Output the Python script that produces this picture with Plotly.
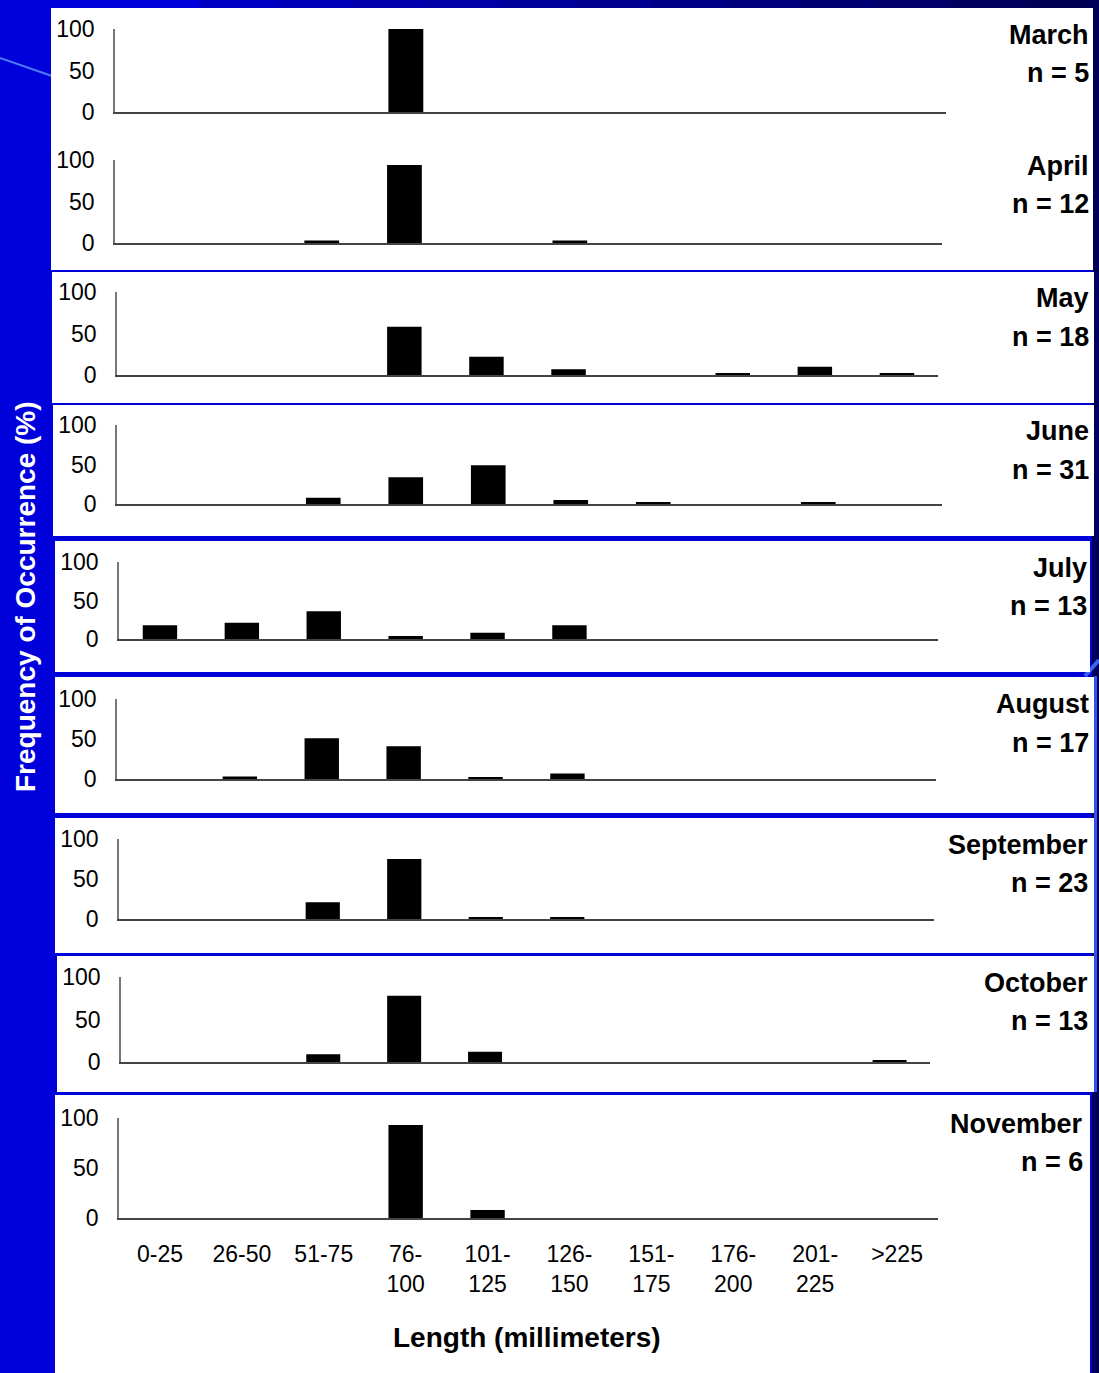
import plotly.graph_objects as go

W, H = 1099, 1373

categories = ["0-25", "26-50", "51-75", "76-100", "101-125", "126-150",
              "151-175", "176-200", "201-225", ">225"]
tick_labels = ["0-25", "26-50", "51-75", "76-<br>100", "101-<br>125", "126-<br>150",
               "151-<br>175", "176-<br>200", "201-<br>225", ">225"]

months = ["March", "April", "May", "June", "July", "August",
          "September", "October", "November"]
n_values = [5, 12, 18, 31, 13, 17, 23, 13, 6]

march = [0, 0, 0, 100, 0, 0, 0, 0, 0, 0]
april = [0, 0, 3, 94, 0, 3, 0, 0, 0, 0]
may = [0, 0, 0, 58, 22, 7, 0, 2, 10, 2]
june = [0, 0, 8, 34, 49, 5, 2, 0, 2, 0]
july = [18, 21, 36, 4, 8, 18, 0, 0, 0, 0]
august = [0, 3, 51, 41, 2, 7, 0, 0, 0, 0]
september = [0, 0, 21, 75, 2, 2, 0, 0, 0, 0]
october = [0, 0, 9, 78, 12, 0, 0, 0, 0, 2]
november = [0, 0, 0, 93, 8, 0, 0, 0, 0, 0]
series = [march, april, may, june, july, august, september, october, november]

# plot area pixel boxes (x0, x1, ytop, ybottom)
boxes = [
    (115, 946, 29, 112),
    (115, 942, 160, 243),
    (117, 938, 292, 375),
    (117, 942, 425, 504),
    (119, 938, 562, 639),
    (117, 936, 699, 779),
    (119, 934, 839, 919),
    (121, 930, 977, 1062),
    (119, 938, 1118, 1218),
]
# label centres (month line, n line)
label_y = [(35, 73), (166, 204), (298, 337), (431, 470), (568, 606),
           (704, 743), (845, 883), (983, 1021), (1124, 1162)]
label_x = [1091, 1091, 1091, 1091, 1089, 1091, 1090, 1090, 1085]

# white panels (x0, x1, y0, y1)
panels = [
    (51, 1093, 8, 270),
    (52, 1094, 272, 403),
    (53, 1094, 405, 536),
    (55, 1090, 541, 672),
    (55, 1094, 677, 813),
    (55, 1094, 818, 953),
    (57, 1094, 956, 1092),
    (55, 1090, 1095, 1373),
]

FONT = "Arial, Liberation Sans, sans-serif"

def px(x):
    return x / W

def py(y):
    return 1 - y / H

fig = go.Figure()
layout = {}
shapes = []
annotations = []

# background decorations
shapes.append(dict(type="rect", xref="paper", yref="paper", x0=0, x1=1, y0=0, y1=1,
                   fillcolor="#0000DA", line_width=0, layer="below"))
# darker top gradient strip
steps = 12
for i in range(steps):
    x0 = 200 + i * (W - 200) / steps
    x1 = 200 + (i + 1) * (W - 200) / steps
    t = (i + 1) / steps
    b = int(0xCC - t * (0xCC - 0x55))
    shapes.append(dict(type="rect", xref="paper", yref="paper", x0=px(x0), x1=px(x1),
                       y0=py(8), y1=1, fillcolor=f"rgb(0,0,{b})", line_width=0,
                       layer="below"))
# right dark strip
shapes.append(dict(type="rect", xref="paper", yref="paper", x0=px(1092), x1=1,
                   y0=0, y1=1, fillcolor="#00005A", line_width=0, layer="below"))
# light swoosh at top-left
shapes.append(dict(type="line", xref="paper", yref="paper", x0=0, y0=py(58),
                   x1=px(52), y1=py(76), line=dict(color="#4A7BFF", width=2),
                   layer="below"))
# light accent on right
shapes.append(dict(type="line", xref="paper", yref="paper", x0=px(1085), y0=py(676),
                   x1=px(1099), y1=py(660), line=dict(color="#3D63F0", width=4),
                   layer="below"))
shapes.append(dict(type="rect", xref="paper", yref="paper", x0=px(1094), x1=px(1097),
                   y0=py(1092), y1=py(676), fillcolor="#2F55E8", line_width=0,
                   layer="below"))

for (x0, x1, y0, y1) in panels:
    shapes.append(dict(type="rect", xref="paper", yref="paper", x0=px(x0), x1=px(x1),
                       y0=py(y1), y1=py(y0), fillcolor="white", line_width=0,
                       layer="below"))

for i, (vals, box) in enumerate(zip(series, boxes)):
    k = i + 1
    xa = "x" if k == 1 else f"x{k}"
    ya = "y" if k == 1 else f"y{k}"
    fig.add_trace(go.Bar(x=categories, y=vals, xaxis=xa, yaxis=ya,
                         marker=dict(color="black", line=dict(width=0)),
                         width=0.42, showlegend=False, hoverinfo="x+y"))
    x0, x1, yt, yb = box
    last = (k == len(series))
    layout["xaxis" if k == 1 else f"xaxis{k}"] = dict(
        domain=[px(x0), px(x1)], anchor=ya, type="category",
        categoryorder="array", categoryarray=categories,
        range=[-0.5, 9.5], showgrid=False, zeroline=False,
        showline=True, linecolor="#444444", linewidth=1.5,
        ticks="", showticklabels=last, automargin=False,
        tickmode="array", tickvals=categories, ticktext=tick_labels,
        tickfont=dict(family=FONT, size=23, color="black"),
        ticklabelstandoff=15 if last else 0,
        fixedrange=True,
    )
    layout["yaxis" if k == 1 else f"yaxis{k}"] = dict(
        domain=[py(yb), py(yt)], anchor=xa, range=[0, 100],
        tickvals=[0, 50, 100], showgrid=False, zeroline=False,
        showline=True, linecolor="#777777", linewidth=1.5, ticks="",
        tickfont=dict(family=FONT, size=23, color="black"),
        ticklabelstandoff=14, fixedrange=True, automargin=False,
    )
    ly1, ly2 = label_y[i]
    annotations.append(dict(text=f"<b>{months[i]}</b>", xref="paper", yref="paper",
                            x=px(label_x[i]), y=py(ly1), xanchor="right", yanchor="middle",
                            showarrow=False, font=dict(family=FONT, size=27, color="black")))
    annotations.append(dict(text=f"<b>n = {n_values[i]}</b>", xref="paper", yref="paper",
                            x=px(label_x[i]), y=py(ly2), xanchor="right", yanchor="middle",
                            showarrow=False, font=dict(family=FONT, size=27, color="black")))

annotations.append(dict(text="<b>Length (millimeters)</b>", xref="paper", yref="paper",
                        x=px(527), y=py(1337), xanchor="center", yanchor="middle",
                        showarrow=False, font=dict(family=FONT, size=28, color="black")))
annotations.append(dict(text="<b>Frequency of Occurrence (%)</b>", xref="paper", yref="paper",
                        x=px(25), y=py(597), xanchor="center", yanchor="middle",
                        textangle=-90, showarrow=False,
                        font=dict(family=FONT, size=28, color="white")))

fig.update_layout(
    width=W, height=H, margin=dict(l=0, r=0, t=0, b=0, pad=0, autoexpand=False),
    paper_bgcolor="#0000DA", plot_bgcolor="rgba(0,0,0,0)",
    shapes=shapes, annotations=annotations,
    **layout,
)

fig.write_html(
    "out.html",
    config={"displayModeBar": False},
    post_script="document.body.style.margin='0';document.body.style.overflow='hidden';",
)
